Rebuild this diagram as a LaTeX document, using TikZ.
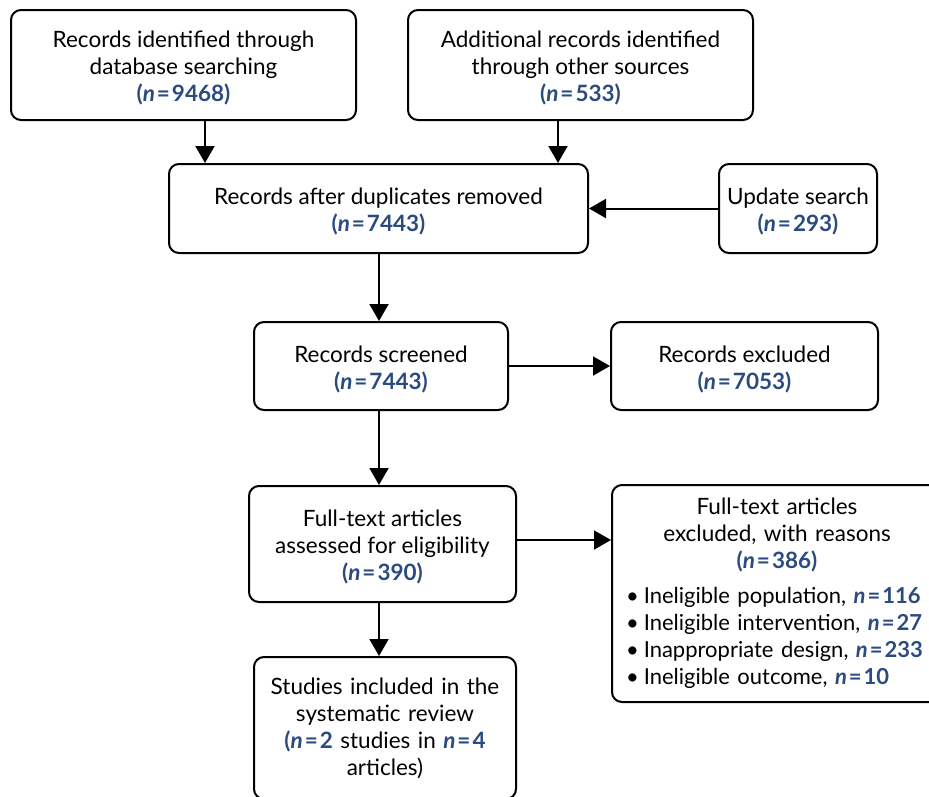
\documentclass[tikz,border=0pt]{standalone}
\usepackage{fontspec}
\setmainfont{Lato}
\usetikzlibrary{arrows.meta}
\definecolor{nblue}{HTML}{2B4B80}
\newcommand{\nval}[1]{{\color{nblue}\bfseries\textit{n}\kern2pt=\kern2pt#1}}
\newcommand{\nparen}[1]{{\color{nblue}\bfseries(\textit{n}\kern2pt=\kern2pt#1)}}
\newcommand{\bul}{\hspace*{7pt}\textbullet\kern5pt}
\tikzset{
  box/.style={draw, line width=2pt, rounded corners=10pt, align=center,
    font=\fontsize{22.5}{27}\selectfont, inner sep=0pt},
  arr/.style={line width=2pt, -{Triangle[length=17pt,width=19pt]}}
}
\begin{document}
\begin{tikzpicture}[x=1pt,y=-1pt]
\useasboundingbox (0,0) rectangle (929,796);
\clip (0,0) rectangle (929,796);
\node[box, minimum width=345pt, minimum height=110pt] (db) at (183.5,65)
  {\\[-4pt]Records identified through\\database searching\\\nparen{9468}};
\node[box, minimum width=345pt, minimum height=110pt] (oth) at (580.5,65)
  {\\[-4pt]Additional records identified\\through other sources\\\nparen{533}};
\node[box, minimum width=419pt, minimum height=89pt] (dup) at (378.5,208.5)
  {\\[-4pt]Records after duplicates removed\\\nparen{7443}};
\node[box, minimum width=158pt, minimum height=89pt] (upd) at (798,208.5)
  {\\[-4pt]Update search\\\nparen{293}};
\node[box, minimum width=254pt, minimum height=88pt] (scr) at (381,366)
  {\\[-4pt]Records screened\\\nparen{7443}};
\node[box, minimum width=267pt, minimum height=88pt] (exc) at (744.5,366)
  {\\[-4pt]Records excluded\\\nparen{7053}};
\node[box, minimum width=267pt, minimum height=116pt] (ft) at (382.5,544)
  {\\[-4pt]Full-text articles\\assessed for eligibility\\\nparen{390}};
\node[box, minimum width=330pt, minimum height=217pt, text width=316pt, align=left] (ftx) at (777,593.5)
  {{\centering Full-text articles\\excluded, with reasons\\\nparen{386}\par}\vspace{8pt}%
   \raggedright\fontsize{22}{27}\selectfont
   \bul Ineligible population, \nval{116}\\
   \bul Ineligible intervention, \nval{27}\\
   \bul Inappropriate design, \nval{233}\\
   \bul Ineligible outcome, \nval{10}};
\node[box, minimum width=262pt, minimum height=142pt, text width=240pt] (inc) at (385,728)
  {Studies included in the\\systematic review\\%
   {\color{nblue}\bfseries(\textit{n}\kern2pt=\kern2pt2} studies in \nval{4}\\articles)};
\draw[arr] (db.south -| 205,0) -- (dup.north -| 205,0);
\draw[arr] (oth.south -| 558,0) -- (dup.north -| 558,0);
\draw[arr] (upd.west) -- (dup.east);
\draw[arr] (dup.south -| 379,0) -- (scr.north -| 379,0);
\draw[arr] (scr.east) -- (exc.west);
\draw[arr] (scr.south -| 379,0) -- (ft.north -| 379,0);
\draw[arr] (ft.east |- 0,540) -- (ftx.west |- 0,540);
\draw[arr] (ft.south -| 379,0) -- (inc.north -| 379,0);
\end{tikzpicture}
\end{document}
